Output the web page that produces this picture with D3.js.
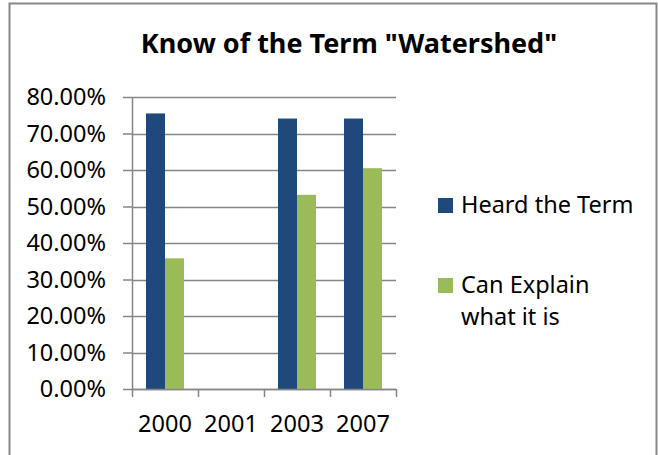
<!DOCTYPE html>
<html>
<head>
<meta charset="utf-8">
<script src="https://cdn.jsdelivr.net/npm/d3@7"></script>
<style>
  body { margin: 0; background: #fff; }
  svg { display: block; }
  text { font-family: "Noto Sans", "Open Sans", sans-serif; fill: #000; }
</style>
</head>
<body>
<script>
// chart data
var years = ["2000", "2001", "2003", "2007"];
var heardTerm = [0.755, null, 0.741, 0.741];
var canExplain = [0.358, null, 0.532, 0.605];
var seriesNames = ["Heard the Term", "Can Explain what it is"];
var seriesColors = ["#1f497d", "#9bbb59"];
var yTicks = [0, 0.1, 0.2, 0.3, 0.4, 0.5, 0.6, 0.7, 0.8];

var W = 658, H = 455;
var margin = {top: 97, left: 132, right: 262, bottom: 66};
var width = W - margin.left - margin.right,
    height = H - margin.top - margin.bottom;
var fontSize = "23.5px";

var svg = d3.select("body").append("svg")
  .attr("width", W)
  .attr("height", H);

// outer chart border (bottom is cut off in the picture)
svg.append("path")
  .attr("d", "M9.5," + (H + 2) + "V3.5H656.5V" + (H + 2))
  .attr("fill", "none")
  .attr("stroke", "#878787")
  .attr("stroke-width", 2);

svg.append("text")
  .attr("x", 349)
  .attr("y", 53)
  .attr("text-anchor", "middle")
  .style("font-weight", "bold")
  .style("font-size", "27px")
  .text('Know of the Term "Watershed"');

var g = svg.append("g")
  .attr("transform", "translate(" + margin.left + "," + margin.top + ")");

var x = d3.scaleBand()
  .domain(years)
  .range([0, width])
  .paddingInner(0.424)
  .paddingOuter(0.212);

var x1 = d3.scaleBand()
  .domain([0, 1])
  .range([0, x.bandwidth()]);

var y = d3.scaleLinear()
  .domain([0, 0.8])
  .range([height, 0]);

// gridlines
g.selectAll(".grid")
  .data(yTicks)
  .enter().append("line")
  .attr("class", "grid")
  .attr("x1", 0)
  .attr("x2", width)
  .attr("y1", function(d) { return Math.round(y(d)) + 0.5; })
  .attr("y2", function(d) { return Math.round(y(d)) + 0.5; })
  .attr("stroke", "#868686")
  .attr("stroke-width", 1.5);

// bars
var data = years.map(function(yr, i) {
  return {year: yr, values: [heardTerm[i], canExplain[i]]};
});

var groups = g.selectAll(".grp")
  .data(data)
  .enter().append("g")
  .attr("class", "grp")
  .attr("transform", function(d) { return "translate(" + x(d.year) + ",0)"; });

groups.selectAll("rect")
  .data(function(d) { return d.values.map(function(v, k) { return {k: k, v: v}; }); })
  .enter().append("rect")
  .filter(function(d) { return d.v != null; })
  .attr("x", function(d) { return x1(d.k); })
  .attr("width", x1.bandwidth())
  .attr("y", function(d) { return y(d.v); })
  .attr("height", function(d) { return height - y(d.v); })
  .attr("fill", function(d) { return seriesColors[d.k]; });

// y axis
var yAxis = g.append("g")
  .call(d3.axisLeft(y).tickValues(yTicks).tickSize(9).tickPadding(17)
    .tickFormat(function(d) { return (d * 100).toFixed(2) + "%"; }));
yAxis.select(".domain").attr("stroke", "#868686").attr("stroke-width", 1.5).attr("d", "M0.5,0V" + height);
yAxis.selectAll(".tick line").attr("stroke", "#868686").attr("stroke-width", 1.5);
yAxis.selectAll("text").style("font-size", fontSize).style("font-family", "'Noto Sans', sans-serif").attr("fill", "#000");

// x axis with ticks at the category boundaries
var xAxis = g.append("g")
  .attr("transform", "translate(0," + height + ")");
xAxis.append("line")
  .attr("x1", 0).attr("x2", width)
  .attr("y1", 0.5).attr("y2", 0.5)
  .attr("stroke", "#868686").attr("stroke-width", 1.5);
var step = x.step();
xAxis.selectAll(".xt")
  .data(d3.range(years.length + 1))
  .enter().append("line")
  .attr("x1", function(i) { return i * step + 0.5; })
  .attr("x2", function(i) { return i * step + 0.5; })
  .attr("y1", 0).attr("y2", 8)
  .attr("stroke", "#868686").attr("stroke-width", 1.5);
xAxis.selectAll(".xl")
  .data(years)
  .enter().append("text")
  .attr("x", function(d) { return x(d) + x.bandwidth() / 2; })
  .attr("y", 43)
  .attr("text-anchor", "middle")
  .style("font-size", fontSize)
  .text(function(d) { return d; });

// legend
var legend = svg.append("g");
var legendRows = [
  {lines: ["Heard the Term"], top: 198},
  {lines: ["Can Explain", "what it is"], top: 278}
];
legendRows.forEach(function(row, i) {
  legend.append("rect")
    .attr("x", 438).attr("y", row.top)
    .attr("width", 15).attr("height", 15)
    .attr("fill", seriesColors[i]);
  row.lines.forEach(function(line, j) {
    legend.append("text")
      .attr("x", 461)
      .attr("y", row.top + 15 + j * 32)
      .style("font-size", fontSize)
      .text(line);
  });
});
</script>
</body>
</html>
